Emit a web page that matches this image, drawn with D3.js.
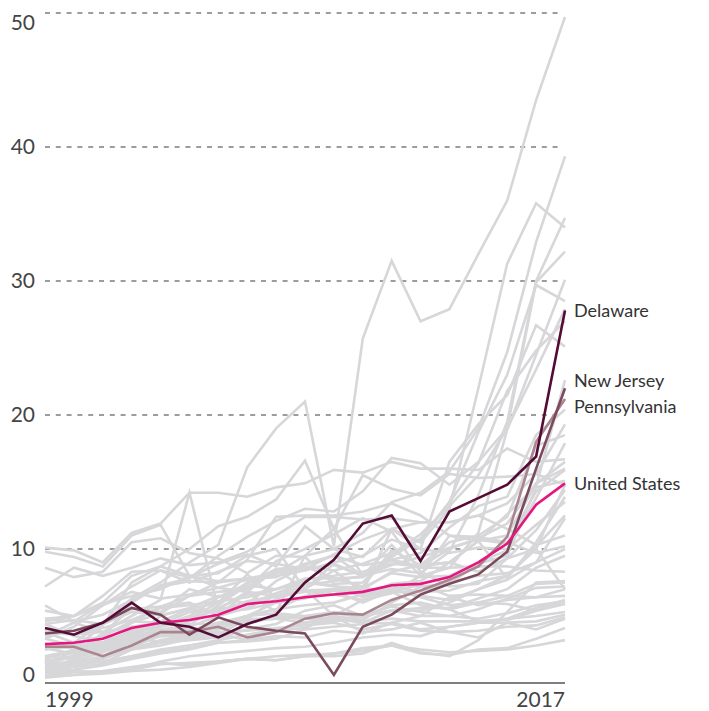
<!DOCTYPE html>
<html>
<head>
<meta charset="utf-8">
<script src="https://cdn.jsdelivr.net/npm/d3@7"></script>
<style>
  body { margin: 0; background: #fff; }
  text { font-family: Lato, "Liberation Sans", sans-serif; }
</style>
</head>
<body>
<div id="container"></div>
<script>
// years on the x axis
var years = d3.range(1999, 2018);
var yTicks = [0, 10, 20, 30, 40, 50];
var xTickLabels = ["1999", "2017"];

// highlighted series
var delaware = [4.1, 3.6, 4.5, 6.0, 4.5, 4.2, 3.4, 4.4, 5.1, 7.5, 9.2, 11.9, 12.5, 9.1, 12.8, 13.8, 14.8, 16.9, 27.8];
var newJersey = [3.7, 3.9, 4.5, 5.6, 5.1, 3.6, 4.9, 4.2, 3.9, 3.7, 0.6, 4.2, 5.1, 6.6, 7.4, 8.1, 9.8, 16.0, 22.0];
var pennsylvania = [2.7, 2.7, 2.0, 2.8, 3.8, 3.8, 4.2, 3.4, 3.8, 4.8, 5.2, 5.1, 6.2, 6.9, 7.7, 8.7, 10.9, 18.0, 21.2];
var unitedStates = [2.9, 3.0, 3.3, 4.1, 4.5, 4.7, 5.1, 5.9, 6.1, 6.4, 6.6, 6.8, 7.3, 7.4, 7.9, 9.0, 10.4, 13.3, 14.9];

// all the other states, drawn grey
var otherStates = [
  [1.9, 2.4, 4.5, 6.3, 7.5, 9.0, 10.3, 16.1, 19.0, 21.0, 10.2, 25.7, 31.5, 27.0, 27.9, 32.0, 36.0, 43.5, 49.7],
  [1.6, 2.0, 2.8, 3.8, 4.6, 5.5, 6.0, 7.5, 8.2, 9.5, 10.0, 11.2, 13.5, 14.2, 15.8, 19.0, 24.7, 32.9, 39.3],
  [2.6, 2.2, 3.7, 5.6, 5.3, 7.0, 6.4, 7.4, 8.5, 8.7, 8.4, 6.8, 11.5, 10.5, 13.0, 22.0, 31.3, 35.8, 34.0],
  [1.8, 2.5, 4.3, 7.5, 8.7, 8.0, 7.6, 7.8, 7.9, 8.9, 9.5, 8.0, 8.5, 8.2, 9.8, 14.0, 19.5, 30.0, 34.7],
  [8.6, 7.9, 8.3, 10.5, 10.8, 9.7, 9.3, 8.2, 9.5, 9.4, 7.4, 7.5, 9.6, 11.1, 13.2, 15.5, 19.0, 29.9, 32.2],
  [3.3, 4.2, 5.8, 7.2, 8.4, 7.5, 8.3, 9.1, 8.9, 8.5, 8.8, 8.0, 9.4, 10.8, 13.5, 18.7, 23.0, 29.7, 28.5],
  [5.8, 4.6, 5.9, 6.5, 7.0, 8.0, 7.1, 6.8, 6.5, 7.0, 8.4, 8.9, 9.7, 10.7, 13.5, 16.4, 21.8, 24.8, 27.0],
  [1.5, 2.3, 3.4, 6.0, 7.3, 7.8, 9.5, 10.9, 12.1, 13.0, 12.8, 14.3, 16.8, 16.4, 14.8, 16.5, 19.0, 23.4, 27.9],
  [5.4, 5.0, 6.5, 8.3, 8.4, 7.9, 8.9, 9.6, 8.7, 11.7, 10.0, 9.4, 11.5, 10.0, 16.5, 19.3, 21.5, 26.7, 25.1],
  [9.8, 9.4, 8.7, 11.0, 11.8, 8.0, 8.2, 9.5, 10.0, 7.0, 5.0, 6.2, 6.7, 8.0, 8.6, 11.2, 18.9, 24.5, 30.1],
  [1.0, 1.4, 1.8, 2.6, 3.0, 3.9, 4.5, 5.0, 6.0, 6.3, 6.9, 7.0, 8.3, 8.8, 9.0, 10.6, 12.6, 14.7, 22.6],
  [1.4, 1.6, 2.3, 3.3, 4.2, 4.6, 5.6, 6.6, 7.0, 7.8, 7.8, 7.9, 9.2, 9.7, 11.6, 13.2, 13.9, 18.5, 20.4],
  [1.6, 2.0, 2.6, 3.6, 4.3, 5.0, 6.4, 7.1, 8.4, 8.5, 9.6, 10.7, 11.5, 12.0, 12.0, 12.5, 13.4, 15.6, 19.3],
  [1.0, 1.8, 2.5, 3.3, 5.0, 5.6, 6.5, 5.9, 7.6, 8.7, 7.8, 7.2, 9.9, 8.8, 10.5, 11.0, 12.4, 17.7, 18.5],
  [1.8, 2.4, 3.0, 3.9, 4.4, 5.3, 5.4, 6.1, 6.5, 6.8, 7.0, 7.1, 8.2, 7.9, 8.0, 9.0, 9.9, 13.8, 17.9],
  [10.1, 9.9, 9.0, 11.2, 11.9, 14.2, 14.2, 13.9, 14.6, 14.9, 15.9, 15.7, 16.5, 16.0, 16.0, 15.9, 17.5, 16.5, 16.7],
  [1.5, 2.0, 2.5, 3.0, 4.0, 4.3, 5.8, 7.3, 7.0, 7.7, 8.0, 8.3, 8.9, 8.7, 10.0, 10.8, 11.9, 14.9, 16.5],
  [1.2, 1.5, 2.0, 3.1, 3.8, 4.2, 5.0, 5.6, 6.5, 7.3, 7.6, 8.0, 8.8, 9.4, 10.1, 10.7, 10.4, 14.3, 15.9],
  [3.8, 3.0, 3.5, 4.6, 4.5, 4.8, 6.0, 8.1, 6.4, 6.9, 7.0, 6.5, 7.4, 7.6, 9.0, 10.6, 11.0, 14.9, 16.0],
  [4.4, 3.5, 3.0, 3.3, 3.8, 3.5, 4.0, 4.8, 4.8, 4.5, 5.0, 4.7, 6.0, 7.2, 7.4, 8.9, 9.5, 14.6, 15.1],
  [4.6, 5.0, 6.0, 8.0, 8.7, 10.0, 11.7, 12.4, 13.7, 16.6, 11.5, 15.5, 14.5, 14.0, 15.6, 15.3, 15.4, 15.6, 14.8],
  [2.8, 2.6, 3.0, 3.8, 3.6, 3.8, 4.2, 5.0, 5.2, 5.0, 4.8, 4.5, 5.4, 5.4, 6.0, 7.0, 8.0, 10.0, 14.8],
  [2.5, 3.0, 4.5, 5.5, 5.7, 6.5, 6.8, 7.0, 9.1, 10.0, 11.1, 12.3, 11.3, 8.3, 7.2, 7.4, 9.3, 11.4, 14.4],
  [3.5, 4.5, 3.8, 5.0, 6.2, 14.2, 5.5, 6.8, 5.3, 9.5, 11.5, 8.0, 10.3, 8.0, 11.0, 10.6, 7.8, 10.5, 13.9],
  [4.8, 5.0, 5.8, 6.8, 6.3, 6.6, 7.1, 7.7, 8.0, 8.4, 9.0, 9.5, 10.7, 10.0, 9.7, 10.1, 10.0, 11.8, 13.5],
  [1.6, 2.0, 2.6, 3.5, 3.9, 4.0, 4.3, 5.0, 5.5, 5.8, 6.0, 6.6, 6.8, 6.8, 6.9, 7.6, 8.0, 10.2, 12.5],
  [2.0, 1.8, 1.5, 2.5, 2.8, 3.3, 3.6, 4.8, 6.3, 6.9, 6.6, 6.2, 7.0, 6.5, 6.2, 7.0, 7.7, 9.0, 12.3],
  [7.2, 8.6, 8.0, 8.6, 9.3, 8.8, 9.0, 9.8, 11.0, 12.4, 12.4, 12.2, 12.3, 12.0, 12.0, 12.5, 11.5, 10.3, 11.0],
  [1.5, 2.0, 3.5, 4.5, 5.2, 6.5, 7.5, 9.2, 12.4, 12.5, 12.5, 12.8, 13.4, 12.5, 11.0, 10.9, 10.5, 9.7, 10.2],
  [4.4, 4.7, 4.4, 5.3, 5.1, 5.5, 5.3, 5.5, 6.0, 6.4, 7.0, 6.6, 7.2, 6.8, 7.5, 8.0, 8.2, 9.0, 10.0],
  [4.8, 4.6, 5.1, 6.2, 7.2, 7.6, 7.5, 7.8, 8.2, 8.8, 9.5, 8.8, 9.1, 8.6, 8.6, 8.7, 8.7, 8.4, 8.3],
  [1.3, 1.4, 1.6, 2.0, 2.5, 2.8, 3.2, 3.6, 4.0, 4.5, 4.6, 5.0, 5.4, 5.6, 5.6, 6.3, 7.0, 8.6, 9.5],
  [0.5, 0.8, 0.9, 1.2, 1.5, 1.3, 1.6, 1.8, 1.7, 2.0, 2.0, 2.2, 3.0, 2.3, 2.0, 3.2, 5.3, 7.5, 7.6],
  [0.9, 1.2, 1.4, 1.9, 2.4, 2.8, 3.1, 4.4, 5.0, 4.9, 5.2, 4.9, 5.8, 6.0, 5.5, 6.0, 6.5, 7.4, 7.5],
  [1.0, 1.3, 1.6, 2.0, 2.3, 2.6, 3.0, 3.1, 3.3, 4.0, 4.2, 4.4, 4.5, 5.0, 5.0, 5.5, 6.3, 7.1, 7.2],
  [1.4, 2.0, 2.4, 2.7, 3.0, 3.2, 3.4, 4.0, 4.4, 5.4, 5.8, 5.0, 5.4, 5.0, 6.4, 5.8, 6.2, 6.4, 7.0],
  [2.0, 2.4, 3.0, 4.5, 5.7, 6.0, 5.0, 6.8, 8.5, 7.0, 8.9, 8.0, 9.2, 8.7, 9.0, 8.3, 9.3, 10.0, 7.0],
  [1.1, 1.3, 1.9, 2.5, 3.2, 3.5, 4.3, 5.0, 5.5, 6.5, 6.9, 6.0, 6.9, 7.3, 6.5, 6.6, 6.5, 6.4, 6.5],
  [0.5, 0.6, 0.8, 1.0, 1.6, 2.0, 2.2, 2.4, 2.6, 2.7, 3.0, 3.4, 3.6, 3.5, 4.2, 4.5, 4.8, 5.6, 6.2],
  [1.3, 1.5, 2.0, 2.7, 3.5, 3.8, 4.5, 4.6, 4.8, 5.0, 5.3, 5.1, 5.7, 5.3, 5.0, 4.8, 5.2, 5.8, 6.1],
  [3.8, 3.6, 4.1, 4.7, 5.6, 5.8, 6.1, 6.4, 7.0, 7.5, 7.3, 6.4, 7.0, 6.4, 5.8, 6.0, 5.9, 5.4, 6.1],
  [2.0, 2.4, 2.8, 3.8, 4.3, 4.8, 5.5, 5.8, 6.7, 7.5, 7.2, 7.1, 6.8, 5.8, 5.5, 4.6, 4.7, 5.4, 5.9],
  [4.0, 3.6, 3.8, 4.2, 4.5, 4.4, 4.4, 4.5, 4.9, 4.8, 4.7, 4.6, 4.8, 4.6, 4.6, 4.6, 4.8, 5.0, 5.3],
  [0.8, 1.0, 1.3, 1.8, 2.2, 2.5, 3.0, 3.2, 3.5, 3.4, 3.9, 3.7, 4.5, 4.0, 4.2, 4.5, 4.5, 4.6, 5.1],
  [3.3, 2.8, 3.0, 3.4, 3.5, 3.5, 3.8, 3.9, 4.1, 4.3, 4.5, 4.0, 4.4, 3.9, 3.8, 3.9, 4.2, 4.3, 4.9],
  [2.5, 2.7, 2.3, 3.3, 3.1, 3.4, 3.7, 3.2, 3.9, 4.1, 5.0, 3.8, 4.0, 4.5, 3.8, 3.4, 4.5, 4.0, 4.8],
  [0.4, 0.6, 0.7, 0.9, 1.0, 1.2, 1.5, 1.8, 1.7, 2.0, 2.2, 2.6, 2.8, 2.2, 2.1, 2.5, 2.6, 3.3, 4.1],
  [0.7, 0.9, 0.8, 1.0, 1.4, 1.5, 1.6, 1.8, 2.0, 2.1, 2.2, 2.4, 2.8, 2.5, 2.3, 2.4, 2.5, 2.8, 3.2]
];

var highlights = [
  {name: "Pennsylvania", values: pennsylvania, color: "#a9868f", dy: 8},
  {name: "New Jersey", values: newJersey, color: "#7b4b5d", dy: -8},
  {name: "United States", values: unitedStates, color: "#e3177f", dy: 0},
  {name: "Delaware", values: delaware, color: "#540c36", dy: 0}
];

var margin = {top: 13, right: 144, bottom: 28, left: 45},
    width = 709 - margin.left - margin.right,
    height = 711 - margin.top - margin.bottom;

var svg = d3.select("#container")
  .append("svg")
    .attr("width", 709)
    .attr("height", 711)
  .append("g")
    .attr("transform", "translate(" + margin.left + "," + margin.top + ")");

var x = d3.scaleLinear()
  .domain([1999, 2017])
  .range([0, width]);

var y = d3.scaleLinear()
  .domain([0, 50])
  .range([height, 0]);

// dashed gridlines
svg.selectAll(".grid")
  .data(yTicks.filter(function (d) { return d > 0; }))
  .enter()
  .append("line")
    .attr("x1", 0)
    .attr("x2", width - 2)
    .attr("y1", function (d) { return y(d); })
    .attr("y2", function (d) { return y(d); })
    .attr("stroke", "#3a3a3a")
    .attr("stroke-width", 1.2)
    .attr("stroke-dasharray", "5,5.8");

// y labels (top one pushed down, zero pushed up)
svg.selectAll(".ylab")
  .data(yTicks)
  .enter()
  .append("text")
    .attr("x", -10)
    .attr("y", function (d) { return y(d); })
    .attr("dy", function (d) { return d == 50 ? "0.8em" : d == 0 ? "-0.05em" : "0.35em"; })
    .attr("text-anchor", "end")
    .attr("fill", "#444")
    .style("font-size", "21px")
    .text(function (d) { return d; });

var line = d3.line()
  .x(function (d, i) { return x(years[i]); })
  .y(function (d) { return y(d); });

// grey states
svg.selectAll(".state")
  .data(otherStates)
  .enter()
  .append("path")
    .attr("d", line)
    .attr("fill", "none")
    .attr("stroke", "#d7d7d9")
    .attr("stroke-width", 2.6);

// bottom axis line
svg.append("line")
  .attr("x1", 0)
  .attr("x2", width)
  .attr("y1", height)
  .attr("y2", height)
  .attr("stroke", "#555")
  .attr("stroke-width", 1.5);

svg.append("text")
  .attr("x", x(1999))
  .attr("y", height + 24)
  .attr("fill", "#444")
  .style("font-size", "21px")
  .text(xTickLabels[0]);

svg.append("text")
  .attr("x", x(2017))
  .attr("y", height + 24)
  .attr("text-anchor", "end")
  .attr("fill", "#444")
  .style("font-size", "21px")
  .text(xTickLabels[1]);

// highlighted lines
svg.selectAll(".hl")
  .data(highlights)
  .enter()
  .append("path")
    .attr("d", function (d) { return line(d.values); })
    .attr("fill", "none")
    .attr("stroke", function (d) { return d.color; })
    .attr("stroke-width", 2.6);

// labels at the line ends
svg.selectAll(".hlab")
  .data(highlights)
  .enter()
  .append("text")
    .attr("x", width + 9)
    .attr("y", function (d) { return y(d.values[d.values.length - 1]) + d.dy; })
    .attr("dy", "0.35em")
    .attr("fill", "#333")
    .style("font-size", "18px")
    .text(function (d) { return d.name; });
</script>
</body>
</html>
